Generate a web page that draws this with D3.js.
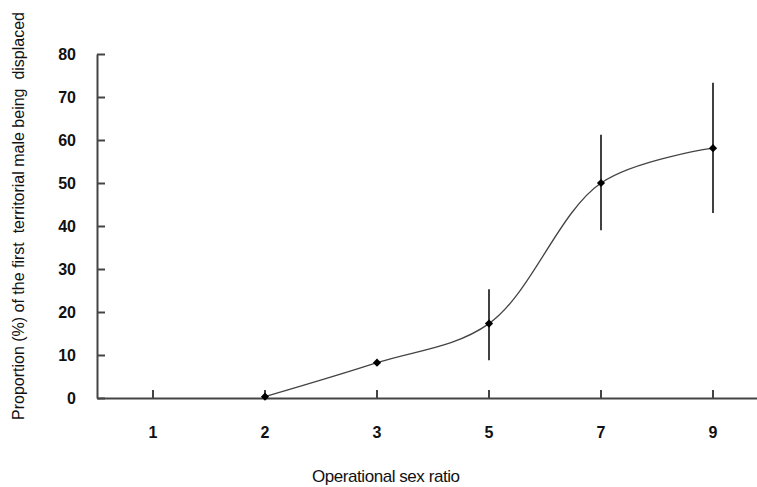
<!DOCTYPE html>
<html>
<head>
<meta charset="utf-8">
<script src="https://cdn.jsdelivr.net/npm/d3@7"></script>
<style>
    body { margin: 0; background: #fff; }
    svg { display: block; font-family: Arial, 'Liberation Sans', sans-serif; }
    .axis path, .axis line { stroke: #444; stroke-width: 2; }
    .axis text { font-size: 16px; font-weight: bold; fill: #111; }
</style>
</head>
<body>
<div id="chart"></div>
<script>
// chart data
const categories = ['1', '2', '3', '5', '7', '9'];
const proportion = [null, 0.3, 8.2, 17.3, 50.0, 58.1];
const errLow = [null, null, null, 8.8, 39.0, 43.0];
const errHigh = [null, null, null, 25.3, 61.2, 73.3];
const yTicks = [0, 10, 20, 30, 40, 50, 60, 70, 80];

const width = 757, height = 487;

let svg = d3.select('#chart').append('svg')
    .attr('width', width)
    .attr('height', height);

// Scales and Axes
let x = d3.scaleBand().domain(categories).range([97, 769]);
let y = d3.scaleLinear().domain([0, 80]).range([398, 54]);

let xAxis = d3.axisBottom(x).tickSize(-8).tickSizeOuter(0).tickPadding(29);
let yAxis = d3.axisLeft(y).tickValues(yTicks).tickSize(-8).tickSizeOuter(0).tickPadding(21);

svg.append('g')
    .attr('class', 'axis x-axis')
    .attr('transform', 'translate(0,398)')
    .call(xAxis);

svg.append('g')
    .attr('class', 'axis y-axis')
    .attr('transform', 'translate(97,0)')
    .call(yAxis);

svg.selectAll('.y-axis .tick text').attr('dy', '0.35em');

// data points
let pts = categories
    .map((c, i) => ({ cat: c, v: proportion[i], lo: errLow[i], hi: errHigh[i] }))
    .filter((d) => d.v !== null);

let cx = (d) => x(d.cat) + x.bandwidth() / 2;

// smoothed line
let line = d3.line()
    .curve(d3.curveCatmullRom.alpha(0.5))
    .x(cx)
    .y((d) => y(d.v));

svg.append('path')
    .datum(pts)
    .attr('d', line)
    .attr('fill', 'none')
    .attr('stroke', '#444')
    .attr('stroke-width', 1.3);

// error bars
svg.selectAll('.err')
    .data(pts.filter((d) => d.lo !== null))
    .enter()
    .append('line')
    .attr('class', 'err')
    .attr('x1', cx)
    .attr('x2', cx)
    .attr('y1', (d) => y(d.lo))
    .attr('y2', (d) => y(d.hi))
    .attr('stroke', '#111')
    .attr('stroke-width', 1.6);

// diamond markers (rotated squares)
svg.selectAll('.pt')
    .data(pts)
    .enter()
    .append('path')
    .attr('class', 'pt')
    .attr('d', d3.symbol(d3.symbolSquare).size(34))
    .attr('transform', (d) => `translate(${cx(d)},${y(d.v)}) rotate(45)`)
    .attr('fill', '#000');

// axis titles
svg.append('text')
    .attr('x', 386)
    .attr('y', 482)
    .attr('text-anchor', 'middle')
    .attr('textLength', 148)
    .style('font-size', '17px')
    .style('fill', '#111')
    .text('Operational sex ratio');

svg.append('text')
    .attr('transform', 'translate(24,216) rotate(-90)')
    .attr('text-anchor', 'middle')
    .attr('textLength', 408)
    .style('font-size', '16px')
    .style('fill', '#111')
    .style('white-space', 'pre')
    .text('Proportion (%) of the first  territorial male being  displaced');
</script>
</body>
</html>
